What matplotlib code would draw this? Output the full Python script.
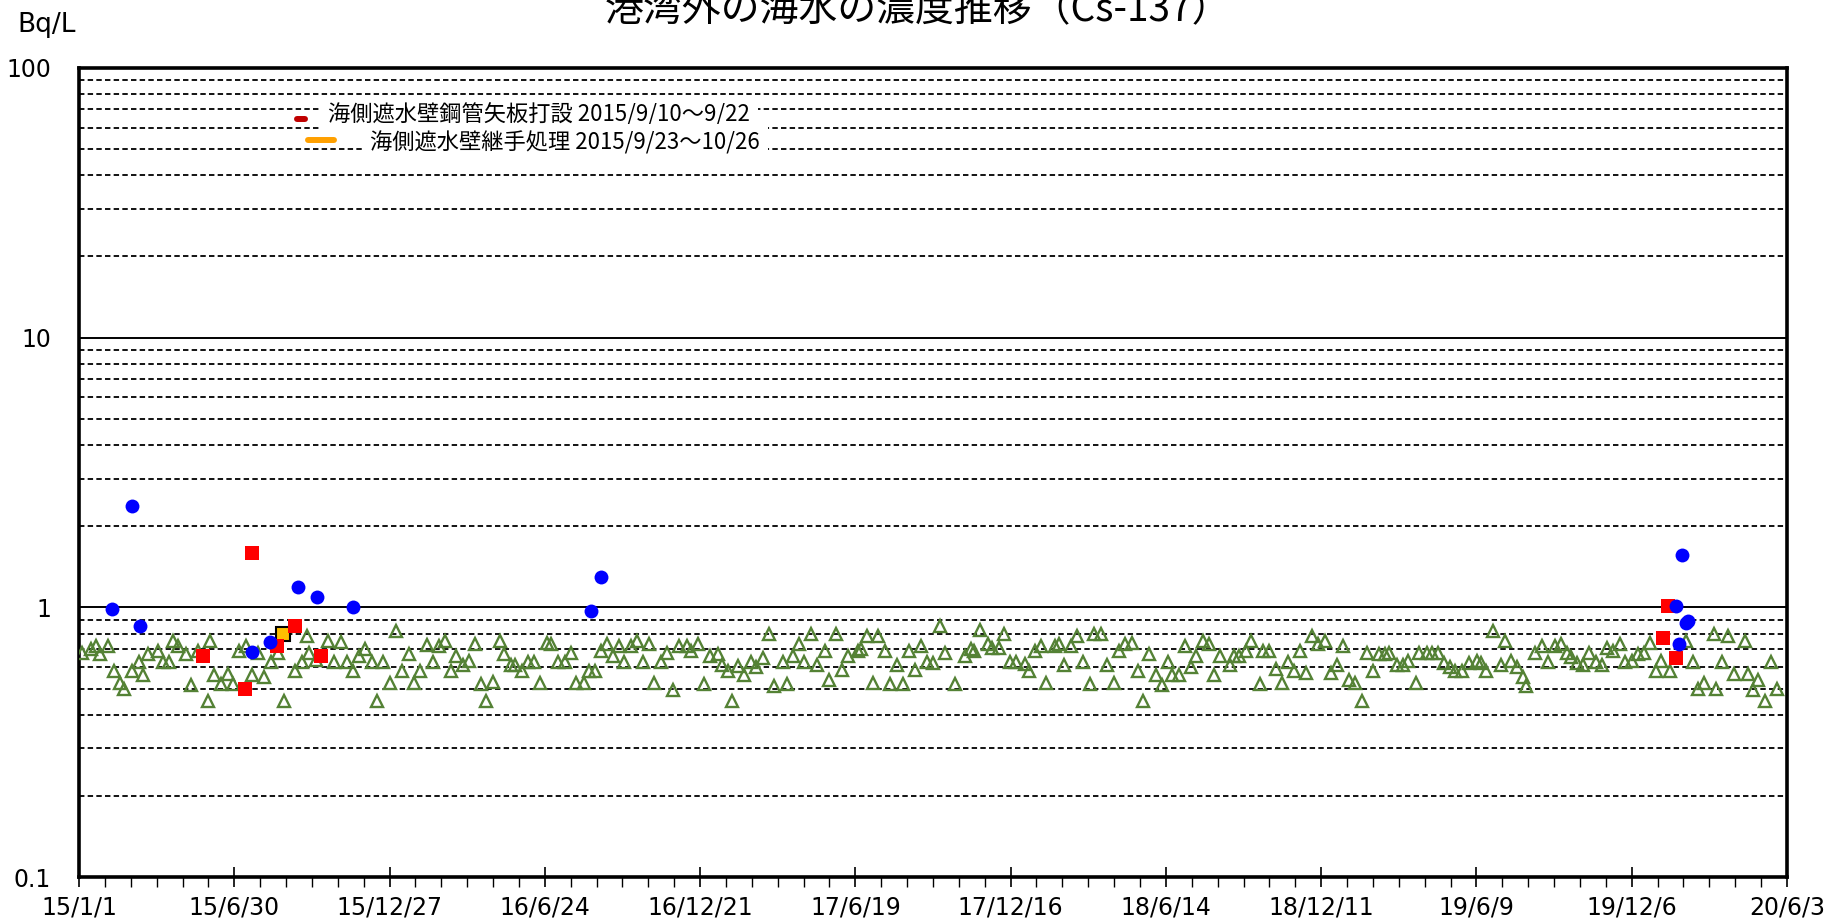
import datetime as dt
import matplotlib
matplotlib.use("Agg")
import matplotlib.pyplot as plt
import matplotlib.dates as mdates
from matplotlib.lines import Line2D
from matplotlib.ticker import FixedLocator, FixedFormatter, LogLocator, NullFormatter

plt.rcParams['font.family'] = ['Noto Sans CJK JP', 'DejaVu Sans']

start = dt.date(2015, 1, 1)
span_days = 1980

# days since 2015/1/1 and Bq/L
tri_day = [4, 14, 20, 24, 34, 41, 47, 52, 61, 70, 74, 80, 92, 97, 104, 109, 115, 124, 130, 138,
           150, 152, 157, 165, 173, 179, 186, 194, 200, 208, 215, 223, 231, 238, 250, 258, 264, 267,
           275, 289, 296, 304, 311, 318, 325, 332,
           340, 346, 352, 360, 368, 374, 383, 388, 395, 403, 410, 417, 424, 431, 437, 445, 452, 459,
           466, 472, 480, 488, 493, 501, 505, 513, 520, 528, 534, 542, 547, 555, 563, 570, 576, 586,
           591, 598, 605, 612, 619, 626, 632, 640, 647, 654, 661, 667,
           675, 682, 689, 696, 705, 710, 718, 724, 731, 741, 745, 752, 757, 764, 771, 779, 785, 793,
           800, 806, 816, 821, 828, 835, 841, 849, 856, 865, 870, 877, 884, 891, 903, 906, 913, 920,
           926, 934, 940, 948, 955, 962, 969, 976, 983, 990, 998, 1004,
           1016, 1027, 1034, 1037, 1044, 1054, 1058, 1066, 1072, 1079, 1086, 1097, 1101, 1108, 1115,
           1121, 1131, 1136, 1142, 1150, 1157, 1164, 1172, 1177, 1185, 1192, 1200, 1206, 1213, 1221,
           1228, 1234, 1241, 1249, 1256, 1262, 1267, 1275, 1282, 1289, 1295, 1303, 1310, 1316, 1323,
           1334, 1339,
           1345, 1353, 1359, 1369, 1373, 1380, 1388, 1395, 1402, 1408, 1416, 1423, 1429, 1436, 1444,
           1451, 1458, 1465, 1472, 1479, 1487, 1493, 1500, 1507, 1514, 1519, 1528, 1535, 1541, 1550,
           1554, 1563, 1569, 1575, 1582, 1589, 1595, 1603, 1611, 1621, 1625, 1631, 1639, 1649, 1653,
           1660, 1667, 1674, 1677,
           1688, 1696, 1703, 1711, 1718, 1725, 1730, 1737, 1744, 1751, 1759, 1766, 1771, 1778, 1787,
           1792, 1800, 1807, 1814, 1821, 1828, 1834, 1844, 1863, 1871, 1877, 1884, 1895, 1898, 1905,
           1912, 1919, 1931, 1935, 1941, 1947, 1954, 1961, 1968]
tri_val = [0.68, 0.70, 0.72, 0.67, 0.72, 0.58, 0.525, 0.50, 0.58, 0.63, 0.56, 0.67, 0.69, 0.63, 0.63,
           0.75, 0.72, 0.67, 0.515, 0.69, 0.45, 0.75, 0.56, 0.52, 0.567, 0.52, 0.69, 0.72, 0.56, 0.68,
           0.55, 0.63, 0.68, 0.45, 0.58, 0.63, 0.78, 0.68, 0.64, 0.75, 0.63, 0.745, 0.63, 0.58, 0.66,
           0.70,
           0.63, 0.45, 0.63, 0.525, 0.815, 0.58, 0.67, 0.525, 0.58, 0.728, 0.63, 0.72, 0.75, 0.58,
           0.66, 0.61, 0.635, 0.73, 0.52, 0.45, 0.53, 0.75, 0.67, 0.61, 0.61, 0.58, 0.63, 0.63, 0.525,
           0.735, 0.73, 0.63, 0.63, 0.68, 0.525, 0.525, 0.58, 0.58, 0.69, 0.73, 0.66, 0.72, 0.63, 0.72,
           0.75, 0.63, 0.73, 0.525,
           0.63, 0.68, 0.495, 0.72, 0.72, 0.69, 0.73, 0.52, 0.66, 0.67, 0.61, 0.58, 0.45, 0.605, 0.56,
           0.63, 0.60, 0.65, 0.80, 0.51, 0.63, 0.52, 0.66, 0.73, 0.63, 0.795, 0.61, 0.69, 0.54, 0.795,
           0.585, 0.66, 0.69, 0.70, 0.78, 0.525, 0.78, 0.69, 0.52, 0.61, 0.52, 0.69, 0.585, 0.72, 0.63,
           0.62, 0.85, 0.68,
           0.52, 0.66, 0.70, 0.69, 0.825, 0.73, 0.71, 0.71, 0.795, 0.63, 0.63, 0.615, 0.58, 0.69, 0.72,
           0.525, 0.72, 0.73, 0.61, 0.72, 0.78, 0.63, 0.52, 0.80, 0.795, 0.61, 0.525, 0.69, 0.73,
           0.735, 0.58, 0.45, 0.67, 0.56, 0.515, 0.63, 0.56, 0.56, 0.72, 0.60, 0.66, 0.75, 0.73, 0.56,
           0.66, 0.61, 0.66,
           0.66, 0.69, 0.75, 0.52, 0.69, 0.69, 0.59, 0.525, 0.63, 0.58, 0.69, 0.57, 0.78, 0.73, 0.75,
           0.57, 0.61, 0.72, 0.54, 0.525, 0.45, 0.68, 0.58, 0.67, 0.67, 0.68, 0.61, 0.61, 0.635, 0.525,
           0.68, 0.68, 0.68, 0.68, 0.62, 0.60, 0.58, 0.58, 0.62, 0.635, 0.62, 0.58, 0.815, 0.61, 0.75,
           0.635, 0.60, 0.55, 0.51,
           0.68, 0.72, 0.63, 0.72, 0.73, 0.68, 0.655, 0.62, 0.61, 0.68, 0.63, 0.61, 0.71, 0.69, 0.73,
           0.63, 0.635, 0.67, 0.68, 0.735, 0.58, 0.635, 0.58, 0.75, 0.63, 0.50, 0.525, 0.80, 0.50, 0.63,
           0.78, 0.565, 0.75, 0.565, 0.495, 0.54, 0.45, 0.63, 0.50]

red_day = [144, 193, 200, 229, 250, 280, 1836, 1842, 1851]
red_val = [0.66, 0.50, 1.59, 0.72, 0.856, 0.66, 0.77, 1.015, 0.65]

yellow_day = [237]
yellow_val = [0.80]

blue_day = [38, 62, 71, 200, 221, 254, 276, 318, 593, 605, 1851, 1855, 1858, 1863, 1865]
blue_val = [0.99, 2.38, 0.856, 0.684, 0.745, 1.19, 1.09, 1.0, 0.97, 1.30, 1.015, 0.732, 1.57,
            0.875, 0.89]

y_ticks = [0.1, 1, 10, 100]
y_labels = ['0.1', '1', '10', '100']
title = '港湾外の海水の濃度推移（Cs-137）'
legend_1 = '海側遮水壁鋼管矢板打設 2015/9/10～9/22'
legend_2 = '海側遮水壁継手処理 2015/9/23～10/26'


def to_dates(days):
    return [start + dt.timedelta(days=int(d)) for d in days]


fig = plt.figure(figsize=(18.29, 9.23), dpi=100)
ax = fig.add_axes([0.0432, 0.0496, 0.9338, 0.8771])

ax.plot(to_dates(tri_day), tri_val, ls='none', marker='^', ms=8.5, mfc='none',
        mec='#548235', mew=1.7, zorder=3)
ax.plot(to_dates(yellow_day), yellow_val, ls='none', marker='s', ms=9.5, mfc='#FFC000',
        mec='black', mew=1.5, zorder=4)
ax.plot(to_dates(red_day), red_val, ls='none', marker='s', ms=9.8, color='#FF0000', mew=0, zorder=5)
ax.plot(to_dates(blue_day), blue_val, ls='none', marker='o', ms=10, color='#0000FF', mew=0, zorder=6)

ax.set_yscale('log')
ax.set_ylim(0.1, 100)
ax.yaxis.set_major_locator(FixedLocator(y_ticks))
ax.yaxis.set_major_formatter(FixedFormatter(y_labels))
ax.yaxis.set_minor_locator(LogLocator(base=10, subs=range(2, 10)))
ax.yaxis.set_minor_formatter(NullFormatter())
ax.set_axisbelow(True)
ax.grid(which='major', axis='y', color='black', lw=1.4)
ax.grid(which='minor', axis='y', color='black', lw=1.3, ls=(0, (3.0, 1.8)))

end = start + dt.timedelta(days=span_days)
ax.set_xlim(mdates.date2num(start), mdates.date2num(end))
major = [start + dt.timedelta(days=180 * k) for k in range(12)]
minor = [start + dt.timedelta(days=30 * k) for k in range(67)]
ax.xaxis.set_major_locator(FixedLocator(mdates.date2num(major)))
ax.xaxis.set_major_formatter(FixedFormatter([f'{d.year % 100}/{d.month}/{d.day}' for d in major]))
ax.xaxis.set_minor_locator(FixedLocator(mdates.date2num(minor)))

ax.tick_params(axis='x', which='major', direction='inout', length=14, width=1.2,
               labelsize=17, pad=6)
ax.tick_params(axis='x', which='minor', direction='out', length=7, width=1)
ax.tick_params(axis='y', which='both', length=0, labelsize=17, pad=20)
for lab in ax.get_xticklabels() + ax.get_yticklabels():
    lab.set_family('DejaVu Sans')

for s in ax.spines.values():
    s.set_linewidth(2.6)
    s.set_color('black')

fig.text(0.502, 1 - 21 / 923, title, ha='center', va='baseline', fontsize=28)
fig.text(17 / 1829, 1 - 25 / 923, 'Bq/L', ha='left', va='center', fontsize=19,
         family='DejaVu Sans')

# legend entries for the construction periods
box = dict(boxstyle='square,pad=0.35', fc='white', ec='none')
fig.text(328 / 1829, 1 - 115 / 923, legend_1, ha='left', va='center', fontsize=16, bbox=box)
fig.text(370 / 1829, 1 - 143 / 923, legend_2, ha='left', va='center', fontsize=16, bbox=box)
fig.add_artist(Line2D([297 / 1829, 305 / 1829], [1 - 119 / 923] * 2, transform=fig.transFigure,
                      color='#C00000', lw=4.3, solid_capstyle='round'))
fig.add_artist(Line2D([308 / 1829, 334 / 1829], [1 - 140 / 923] * 2, transform=fig.transFigure,
                      color='#FFA000', lw=4.3, solid_capstyle='round'))

fig.savefig('out.png', dpi=100)
